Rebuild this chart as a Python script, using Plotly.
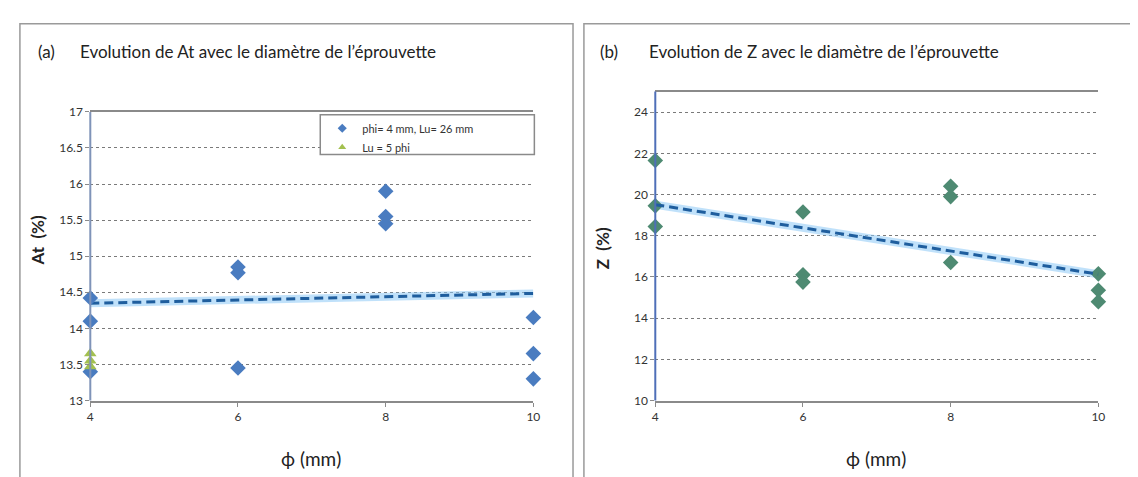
import numpy as np
import plotly.graph_objects as go

# ---- data ----
diam_a = [4, 4, 4, 6, 6, 6, 8, 8, 8, 10, 10, 10]
at_blue = [14.42, 14.10, 13.40, 14.85, 14.77, 13.45, 15.90, 15.55, 15.45, 14.15, 13.65, 13.30]
diam_green = [4, 4, 4]
at_green = [13.65, 13.55, 13.47]

diam_b = [4, 4, 4, 6, 6, 6, 8, 8, 8, 10, 10, 10]
z_vals = [21.65, 19.45, 18.45, 19.15, 16.10, 15.75, 20.40, 19.90, 16.70, 16.15, 15.35, 14.80]

x_ticks = [4, 6, 8, 10]
ya_ticks = [13, 13.5, 14, 14.5, 15, 15.5, 16, 16.5, 17]
yb_ticks = [10, 12, 14, 16, 18, 20, 22, 24]

legend_names = ["phi= 4 mm, Lu= 26 mm", "Lu = 5 phi"]
title_a = "Evolution de At avec le diamètre de l’éprouvette"
title_b = "Evolution de Z avec le diamètre de l’éprouvette"

W, H = 1138, 477
FONT = "Lato"
BLUE = "#4A7CC0"
GREEN = "#A3C04F"

def px(x):
    return x / W

def py(y):
    return 1 - y / H

fit_a = np.polyfit(diam_a, at_blue, 1)
fit_b = np.polyfit(diam_b, z_vals, 1)
xs = np.array([4, 10])

fig = go.Figure()

fig.add_trace(go.Scatter(x=xs, y=np.polyval(fit_a, xs), mode="lines",
                         line=dict(color="rgba(140,200,245,0.55)", width=8),
                         showlegend=False, hoverinfo="skip", xaxis="x", yaxis="y"))
fig.add_trace(go.Scatter(x=xs, y=np.polyval(fit_a, xs), mode="lines",
                         line=dict(color="#1F5E9E", width=3, dash="9px,5px"),
                         showlegend=False, hoverinfo="skip", xaxis="x", yaxis="y"))
fig.add_trace(go.Scatter(x=diam_a, y=at_blue, mode="markers", showlegend=False,
                         marker=dict(symbol="diamond", size=12, color=BLUE),
                         cliponaxis=False, xaxis="x", yaxis="y"))
fig.add_trace(go.Scatter(x=diam_green, y=at_green, mode="markers", showlegend=False,
                         marker=dict(symbol="triangle-up", size=11, color=GREEN),
                         cliponaxis=False, xaxis="x", yaxis="y"))
fig.add_trace(go.Scatter(x=[None], y=[None], mode="markers", name=legend_names[0],
                         marker=dict(symbol="diamond", size=7, color=BLUE),
                         xaxis="x", yaxis="y"))
fig.add_trace(go.Scatter(x=[None], y=[None], mode="markers", name=legend_names[1],
                         marker=dict(symbol="triangle-up", size=7, color=GREEN),
                         xaxis="x", yaxis="y"))

fig.add_trace(go.Scatter(x=xs, y=np.polyval(fit_b, xs), mode="lines",
                         line=dict(color="rgba(140,200,245,0.55)", width=8),
                         showlegend=False, hoverinfo="skip", xaxis="x2", yaxis="y2"))
fig.add_trace(go.Scatter(x=diam_b, y=z_vals, mode="markers",
                         marker=dict(symbol="diamond", size=12, color="#4E8A72"),
                         cliponaxis=False, showlegend=False, xaxis="x2", yaxis="y2"))
fig.add_trace(go.Scatter(x=xs, y=np.polyval(fit_b, xs), mode="lines",
                         line=dict(color="#1F5E9E", width=3, dash="9px,5px"),
                         showlegend=False, hoverinfo="skip", cliponaxis=False,
                         xaxis="x2", yaxis="y2"))

tickfont = dict(family=FONT, size=12, color="#333333")
xcommon = dict(range=[4, 10], tickvals=x_ticks, showgrid=False, zeroline=False,
               showline=True, linecolor="#8a8a8a", linewidth=2, mirror=True,
               ticks="outside", ticklen=4, tickcolor="#8a8a8a", tickfont=tickfont)
ycommon = dict(showgrid=True, gridcolor="#7a7a7a", griddash="dot", gridwidth=1,
               zeroline=False, showline=False, ticks="outside", ticklen=4,
               tickcolor="#8a8a8a", tickfont=tickfont)

fig.update_layout(
    width=W, height=H,
    margin=dict(l=0, r=0, t=0, b=0),
    paper_bgcolor="white", plot_bgcolor="white",
    xaxis=dict(domain=[px(80), px(527)], anchor="y", **xcommon),
    yaxis=dict(domain=[py(397), py(99)], range=[13, 17], tickvals=ya_ticks,
               ticktext=[("%g" % v) for v in ya_ticks], anchor="x", **ycommon),
    xaxis2=dict(domain=[px(650), px(1097)], anchor="y2", **xcommon),
    yaxis2=dict(domain=[py(397), py(78)], range=[10, 25], tickvals=yb_ticks,
                anchor="x2", **ycommon),
    legend=dict(x=px(314), y=py(101), xanchor="left", yanchor="top",
                bgcolor="rgba(0,0,0,0)", borderwidth=0,
                font=dict(family=FONT, size=11, color="#333333"),
                tracegroupgap=0, itemwidth=30),
    showlegend=True,
)

shapes = []
shapes.append(dict(type="rect", xref="paper", yref="paper",
                   x0=px(9), x1=px(567), y0=py(478), y1=py(8),
                   line=dict(color="#9a9a9a", width=1.5)))
shapes.append(dict(type="rect", xref="paper", yref="paper",
                   x0=px(578), x1=px(1136), y0=py(478), y1=py(8),
                   line=dict(color="#9a9a9a", width=1.5)))
# legend box (drawn over the gridlines, under the legend itself)
shapes.append(dict(type="rect", xref="paper", yref="paper", layer="above",
                   x0=px(312), x1=px(528), y0=py(143), y1=py(102),
                   fillcolor="white", line=dict(color="#8a8a8a", width=1.5)))
shapes.append(dict(type="line", xref="paper", yref="paper",
                   x0=px(80), x1=px(80), y0=py(397), y1=py(99),
                   line=dict(color="#7F93B8", width=2)))
shapes.append(dict(type="line", xref="paper", yref="paper",
                   x0=px(650), x1=px(650), y0=py(397), y1=py(78),
                   line=dict(color="#4F6FB8", width=2)))
fig.update_layout(shapes=shapes)

ann = []
tfont = dict(family=FONT, size=17, color="#222222")
ann.append(dict(text="(a)", x=px(25), y=py(37), xref="paper", yref="paper",
                xanchor="left", yanchor="middle", showarrow=False, font=tfont))
ann.append(dict(text=title_a, x=px(68), y=py(37), xref="paper", yref="paper",
                xanchor="left", yanchor="middle", showarrow=False, font=tfont))
ann.append(dict(text="(b)", x=px(592), y=py(37), xref="paper", yref="paper",
                xanchor="left", yanchor="middle", showarrow=False, font=tfont))
ann.append(dict(text=title_b, x=px(642), y=py(37), xref="paper", yref="paper",
                xanchor="left", yanchor="middle", showarrow=False, font=tfont))
afont = dict(family=FONT, size=19, color="#222222")
ann.append(dict(text="ϕ (mm)", x=px(303), y=py(457), xref="paper", yref="paper",
                xanchor="center", yanchor="middle", showarrow=False, font=afont))
ann.append(dict(text="ϕ (mm)", x=px(873), y=py(457), xref="paper", yref="paper",
                xanchor="center", yanchor="middle", showarrow=False, font=afont))
yfont = dict(family=FONT, size=17, color="#222222", weight="bold")
ann.append(dict(text="At  (%)", x=px(27), y=py(232), xref="paper", yref="paper",
                xanchor="center", yanchor="middle", showarrow=False, textangle=-90,
                font=yfont))
ann.append(dict(text="Z  (%)", x=px(597), y=py(240), xref="paper", yref="paper",
                xanchor="center", yanchor="middle", showarrow=False, textangle=-90,
                font=yfont))
fig.update_layout(annotations=ann)

fig.write_html("out.html")
